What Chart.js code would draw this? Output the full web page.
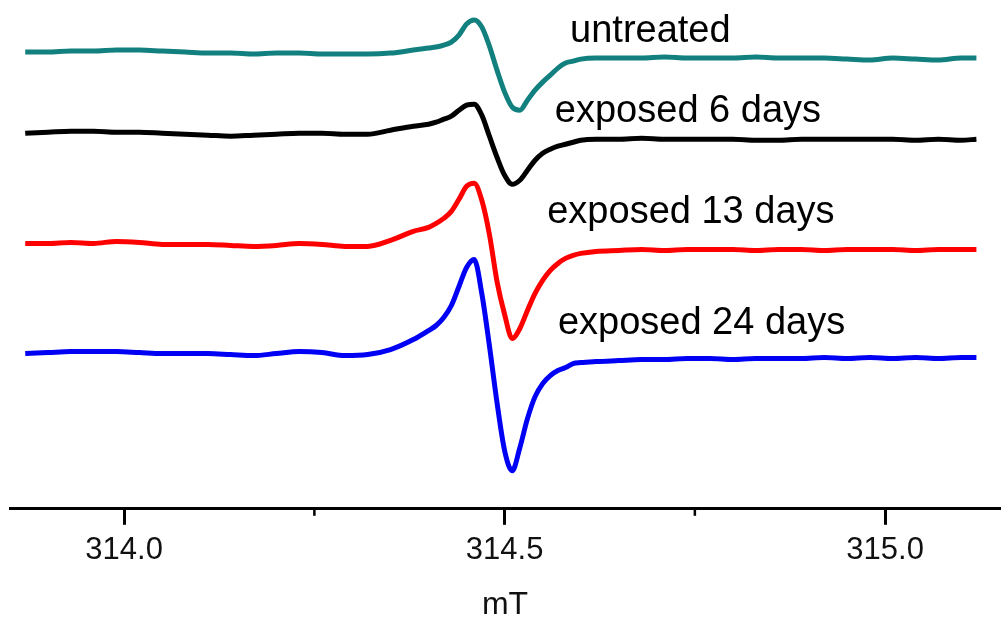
<!DOCTYPE html>
<html>
<head>
<meta charset="utf-8">
<script src="https://cdn.jsdelivr.net/npm/chart.js@4.4.1/dist/chart.umd.min.js"></script>
<style>
  html, body { margin: 0; padding: 0; background: #fff; }
  #wrap { width: 1001px; height: 623px; position: relative; }
</style>
</head>
<body>
<div id="wrap"><canvas id="eprChart"></canvas></div>
<script>
// magnetic field (mT)
const field = [
  313.87, 313.90, 313.93, 313.96, 313.99, 314.02, 314.05, 314.08, 314.11, 314.14,
  314.17, 314.20, 314.23, 314.26, 314.29, 314.32, 314.35, 314.38,
  314.40, 314.41, 314.42, 314.43, 314.44, 314.45, 314.46, 314.47, 314.48, 314.49,
  314.50, 314.51, 314.52, 314.53, 314.54, 314.55, 314.56, 314.57, 314.58, 314.59,
  314.60, 314.62,
  314.65, 314.68, 314.71, 314.74, 314.77, 314.80, 314.83, 314.86, 314.89, 314.92,
  314.95, 314.98, 315.01, 315.04, 315.07, 315.10, 315.12
];

// EPR signal (a.u., spectra stacked with offsets)
const untreated = [
  456, 456, 457, 457, 458, 458, 457, 456, 455, 455,
  454, 455, 455, 454, 454, 454, 455, 458,
  460, 461, 463, 466, 473, 484, 488, 481, 462, 438,
  416, 401, 398, 408, 418, 426, 433, 440, 445, 447,
  449, 450,
  450, 450, 451, 450, 450, 450, 451, 450, 450, 450,
  449, 448, 450, 449, 448, 450, 450
];
const exposed6 = [
  375, 376, 377, 377, 376, 376, 375, 374, 373, 372,
  373, 374, 375, 375, 374, 374, 378, 382,
  384, 386, 389, 392, 398, 403, 404, 393, 372, 351,
  333, 324, 328, 338, 348, 355, 359, 362, 364, 366,
  368, 369,
  369, 370, 369, 369, 369, 369, 368, 368, 369, 369,
  369, 369, 369, 368, 369, 368, 369
];
const exposed13 = [
  265, 265, 266, 265, 267, 266, 264, 264, 264, 263,
  262, 263, 265, 264, 262, 262, 268, 277,
  281, 285, 290, 297, 309, 322, 325, 308, 274, 227,
  194, 170, 180, 198, 215, 228, 238, 245, 250, 253,
  255, 257,
  258, 259, 258, 259, 259, 259, 258, 259, 259, 258,
  259, 259, 259, 258, 259, 259, 259
];
const exposed24 = [
  155, 156, 157, 157, 157, 156, 155, 155, 155, 154,
  153, 155, 157, 156, 153, 154, 159, 169,
  178, 183, 191, 203, 222, 241, 249, 215, 163, 106,
  58, 38, 61, 90, 112, 125, 133, 138, 141, 145,
  146, 147,
  148, 149, 149, 150, 150, 149, 150, 150, 150, 151,
  150, 151, 150, 151, 150, 151, 151
];

const seriesNames = ['untreated', 'exposed 6 days', 'exposed 13 days', 'exposed 24 days'];
const seriesColors = ['#12807f', '#000000', '#ff0000', '#0000f5'];
// where each spectrum's name is written (field, signal)
const labelField = [314.586, 314.566, 314.556, 314.570];
const labelLevel = [466, 386, 285, 175];

const majorTicks = [314.0, 314.5, 315.0];
const minorTicks = [314.25, 314.75];

const seriesValues = [untreated, exposed6, exposed13, exposed24];

const datasets = seriesValues.map((vals, i) => ({
    label: seriesNames[i],
    data: field.map((f, j) => ({ x: f, y: vals[j] })),
    borderColor: seriesColors[i],
    borderWidth: 5,
    pointRadius: 0,
    cubicInterpolationMode: 'monotone',
    fill: false
}));

// names next to the spectra and short minor ticks
const extrasPlugin = {
    id: 'extras',
    afterDatasetsDraw(chart) {
        const { ctx, scales: { x, y } } = chart;
        ctx.save();
        ctx.fillStyle = '#000';
        ctx.font = '38px "Liberation Sans", Arial, sans-serif';
        ctx.textAlign = 'left';
        ctx.textBaseline = 'alphabetic';
        seriesNames.forEach((name, i) => {
            ctx.fillText(name, x.getPixelForValue(labelField[i]), y.getPixelForValue(labelLevel[i]));
        });
        ctx.strokeStyle = '#000';
        ctx.lineWidth = 2.5;
        minorTicks.forEach(v => {
            const px = x.getPixelForValue(v);
            ctx.beginPath();
            ctx.moveTo(px, x.top);
            ctx.lineTo(px, x.top + 7);
            ctx.stroke();
        });
        ctx.restore();
    }
};

const ctx = document.getElementById('eprChart').getContext('2d');
const eprChart = new Chart(ctx, {
    type: 'line',
    data: { datasets: datasets },
    options: {
        responsive: true,
        maintainAspectRatio: false,
        animation: false,
        layout: { padding: { left: 10, right: 1, top: 0, bottom: 0 } },
        plugins: {
            legend: { display: false },
            tooltip: { enabled: false }
        },
        scales: {
            x: {
                type: 'linear',
                min: 313.85,
                max: 315.151,
                afterBuildTicks: axis => {
                    axis.ticks = majorTicks.map(v => ({ value: v }));
                },
                ticks: {
                    color: '#111',
                    font: { family: '"Liberation Sans", Arial, sans-serif', size: 31 },
                    padding: 7,
                    maxRotation: 0,
                    callback: v => v.toFixed(1)
                },
                grid: {
                    drawOnChartArea: false,
                    tickLength: 16,
                    tickWidth: 3,
                    tickColor: '#000'
                },
                border: { color: '#000', width: 3 },
                title: {
                    display: true,
                    text: 'mT',
                    color: '#111',
                    font: { family: '"Liberation Sans", Arial, sans-serif', size: 32, lineHeight: 1 },
                    padding: { top: 13, bottom: 2 }
                }
            },
            y: {
                display: false,
                min: 0,
                max: 508
            }
        }
    },
    plugins: [extrasPlugin]
});
</script>
</body>
</html>
